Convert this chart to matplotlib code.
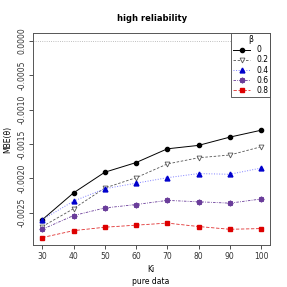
import matplotlib
matplotlib.use('Agg')
import matplotlib.pyplot as plt

# Datos
ki = [30, 40, 50, 60, 70, 80, 90, 100]
b00 = [-0.00260, -0.00221, -0.00191, -0.00177, -0.00157, -0.00152, -0.00140, -0.00130]
b02 = [-0.00270, -0.00244, -0.00214, -0.00199, -0.00179, -0.00170, -0.00166, -0.00154]
b04 = [-0.00260, -0.00233, -0.00215, -0.00207, -0.00199, -0.00193, -0.00194, -0.00185]
b06 = [-0.00274, -0.00254, -0.00243, -0.00238, -0.00232, -0.00234, -0.00236, -0.00230]
b08 = [-0.00286, -0.00276, -0.00271, -0.00268, -0.00265, -0.00270, -0.00274, -0.00273]
betas = ['0', '0.2', '0.4', '0.6', '0.8']
yticks = [0.0, -0.0005, -0.0010, -0.0015, -0.0020, -0.0025]

fig = plt.figure(figsize=(2.87, 2.87), dpi=100)
ax = fig.add_axes([0.116, 0.146, 0.825, 0.738])

ax.axhline(0, color='#aaaaaa', lw=0.6, ls=':')

ax.plot(ki, b00, color='black', ls='-', lw=0.7, marker='o', ms=3, label=betas[0])
ax.plot(ki, b02, color='#555555', ls=(0, (3, 2)), lw=0.6, marker='v', ms=3.5,
        mfc='white', mec='#555555', mew=0.6, label=betas[1])
ax.plot(ki, b04, color='#8080ff', ls=':', lw=0.7, marker='^', ms=3.5,
        mfc='#0000cc', mec='#0000cc', label=betas[2])
ax.plot(ki, b06, color='#6a3d9a', ls=(0, (3, 1.5, 1, 1.5)), lw=0.6, marker=(8, 2, 0), ms=4,
        mec='#6a3d9a', mew=1.0, label=betas[3])
ax.plot(ki, b08, color='#e03030', ls=(0, (4, 2)), lw=0.6, marker='s', ms=2.8,
        mfc='#dd0000', mec='#dd0000', label=betas[4])

ax.set_xlim(27.1, 102.9)
ax.set_ylim(-0.00297, 0.00011)
ax.set_xticks(ki)
ax.set_yticks(yticks)
ax.set_yticklabels(['%.4f' % v for v in yticks], rotation=90, va='center')
ax.tick_params(labelsize=5.5, length=3, width=0.6, pad=2, colors='#333333')
for s in ax.spines.values():
    s.set_linewidth(0.7)
    s.set_color('#555555')

ax.set_title('high reliability', fontsize=6, fontweight='bold', pad=9)
fig.text(0.5265, 1 - 270 / 287, 'Ki', fontsize=5.5, ha='center', va='center')
fig.text(0.5265, 1 - 282 / 287, 'pure data', fontsize=5.5, ha='center', va='center')
ax.set_ylabel('MBE(θ)', fontsize=5.5, labelpad=4)

leg = ax.legend(title='β', loc='upper right', fontsize=5.5, title_fontsize=5.5,
                fancybox=False, edgecolor='#444444', framealpha=1,
                borderaxespad=0, handlelength=2.2, labelspacing=0.15,
                borderpad=0.25, handletextpad=0.8)
leg.get_frame().set_linewidth(0.6)

fig.savefig('out.png', dpi=100)
